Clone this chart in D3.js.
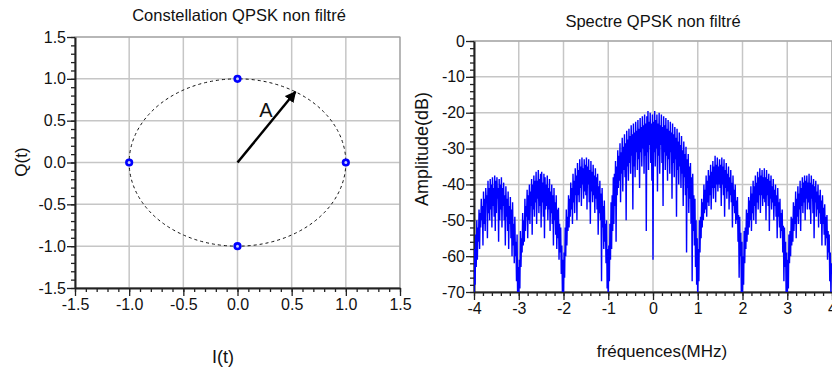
<!DOCTYPE html>
<html>
<head>
<meta charset="utf-8">
<script src="https://cdn.jsdelivr.net/npm/d3@7"></script>
<style>
  body { margin: 0; background: #fff; }
  text { font-family: "Liberation Sans", Arial, sans-serif; fill: #111; }
</style>
</head>
<body>
<div id="chart"></div>
<script>
// constellation points
var constI = [1, 0, -1, 0];
var constQ = [0, 1, 0, -1];
var arrowTip = [0.535, 0.845];   // A vector (I, Q)
var constTicks = [-1.5, -1.0, -0.5, 0.0, 0.5, 1.0, 1.5];

// spectre: one value every 0.0125 MHz from -4 to 4
var freqStart = -4, freqStep = 0.0125;
var spectreDb = [
  // -4 .. -3
  -73, -58, -68, -54, -63, -50, -61, -52, -56, -47,
  -58, -48, -52, -44, -50, -46, -57, -42, -51, -44,
  -53, -41, -45, -43, -55, -39, -48, -41, -50, -38.5,
  -47, -40, -52, -38, -46, -41, -49, -37.5, -53, -39,
  -48, -38, -44, -41, -56, -38.5, -50, -40, -47, -38,
  -52, -41, -46, -39.5, -50, -43, -57, -40.5, -49, -44,
  -53, -42, -58, -46, -51, -43.5, -55, -47, -60, -45,
  -57, -51, -62, -49, -60, -56, -67, -54, -72, -63,
  // -3 .. -2
  -75, -61, -69, -53, -63, -55, -59, -48, -57, -50,
  -56, -44, -53, -46, -49, -41.5, -55, -43, -50, -40,
  -51, -42, -46, -38.5, -54, -40, -47, -37.5, -49, -39,
  -45, -36.5, -51, -39, -44, -36, -48, -38.5, -46, -37,
  -52, -36.5, -45, -39.5, -49, -37, -55, -38, -47, -40,
  -46, -37.5, -50, -41, -47, -38.5, -53, -42, -48, -40,
  -51, -43, -57, -41, -50, -45, -54, -43, -58, -47,
  -55, -46.5, -61, -51, -59, -52, -65, -57, -70, -61,
  // -2 .. -1
  -74, -59, -66, -52, -60, -47, -57, -49, -53, -43,
  -52, -44, -49, -39.5, -47, -41, -51, -37, -45, -39,
  -48, -35.5, -43, -37.5, -50, -34, -43, -36, -45, -33,
  -41, -35, -46, -32.5, -40, -35.5, -44, -33, -42, -34.5,
  -43, -32.5, -47, -35, -40, -33, -45, -36, -51, -33.5,
  -42, -36.5, -45, -34.5, -43, -37.5, -48, -35.5, -44, -38,
  -47, -37, -54, -40.5, -48, -39, -50, -42.5, -67, -41,
  -52, -46, -58, -44.5, -56, -51, -62, -50, -69, -58,
  // -1 .. 0
  -75, -57, -67, -51, -61, -45, -58, -43, -53, -38,
  -51, -37, -46, -33.5, -56, -35, -43, -30.5, -41, -32,
  -39, -28.5, -45, -31, -37, -27, -42, -29.5, -36, -26,
  -38, -28.5, -50, -25, -35, -27.5, -39, -24.5, -34, -26.5,
  -37, -23.5, -32, -26, -47, -23, -35, -25.5, -38, -22.5,
  -31, -25, -36, -22, -33, -24.5, -41, -21.5, -31, -24,
  -35, -21, -30, -23.5, -37, -20.5, -32, -23, -53, -21,
  -31, -19.5, -36, -22.5, -29, -20, -34, -23, -39, -20.5,
  // 0 .. 1
  -61, -22.5, -31, -19.5, -35, -22, -30, -20.5, -42, -23,
  -32, -20, -37, -23.5, -29, -20.5, -34, -24, -46, -21,
  -31, -23.5, -36, -21.5, -32, -24.5, -39, -22, -33, -25,
  -37, -22.5, -31, -25.5, -44, -23, -34, -26, -38, -24,
  -33, -27, -49, -24.5, -36, -28, -40, -25.5, -35, -29,
  -41, -26.5, -37, -30.5, -46, -28, -38, -31.5, -43, -29.5,
  -59, -33, -41, -31.5, -48, -35, -44, -34, -51, -38,
  -67, -37, -53, -43, -57, -44, -63, -50, -68, -55,
  // 1 .. 2
  -74, -58, -67, -50, -59, -49, -55, -44, -52, -45,
  -50, -40, -48, -41.5, -47, -37.5, -49, -39, -45, -36,
  -46, -37.5, -43, -34.5, -47, -36.5, -41, -33.5, -44, -35,
  -41, -32, -45, -34.5, -40, -32.5, -42, -35, -40, -33,
  -41, -34.5, -46, -32.5, -40, -35, -43, -33, -49, -36,
  -41, -34, -44, -37, -42, -35, -47, -38, -43, -36,
  -45, -39.5, -52, -37.5, -46, -41.5, -48, -40, -51, -44.5,
  -50, -43.5, -56, -48.5, -66, -49, -60, -53.5, -72, -56,
  // 2 .. 3
  -73, -60, -68, -53, -62, -52, -58, -47, -56, -48,
  -54, -43.5, -52, -44.5, -50, -40.5, -53, -42.5, -48, -39,
  -50, -40.5, -46, -37.5, -51, -39.5, -45, -36.5, -47, -38,
  -43, -35.5, -48, -37.5, -43, -36, -46, -38, -44, -35.5,
  -45, -38, -50, -36, -43, -38.5, -46, -37, -53, -39,
  -44, -37.5, -47, -40.5, -45, -38.5, -50, -41.5, -46, -40,
  -49, -43, -55, -41, -49, -45, -52, -44, -55, -48,
  -53, -47, -59, -51.5, -67, -52, -63, -56, -71, -59,
  // 3 .. 4
  -74, -61, -69, -54, -62, -53, -60, -49, -57, -49.5,
  -56, -45, -53, -46, -51, -42, -55, -44, -49, -40.5,
  -51, -42.5, -47, -39, -53, -41, -46, -38, -48, -39.5,
  -45, -37.5, -50, -39, -44, -37.5, -47, -39.5, -45, -37,
  -47, -39.5, -51, -37.5, -44, -40, -48, -38.5, -55, -40.5,
  -45, -39, -49, -42, -47, -40, -52, -43, -48, -41.5,
  -51, -44.5, -57, -43, -51, -46.5, -54, -45.5, -57, -49,
  -55, -48.5, -61, -53, -59, -54, -67, -59, -70, -62,
  -65
];
var freqTicks = [-4, -3, -2, -1, 0, 1, 2, 3, 4];
var dbTicks = [0, -10, -20, -30, -40, -50, -60, -70];

var svg = d3.select("#chart")
  .append("svg")
    .attr("width", 832)
    .attr("height", 371);

// arrow head
svg.append("defs").append("marker")
    .attr("id", "head")
    .attr("viewBox", "0 0 10 10")
    .attr("refX", 9).attr("refY", 5)
    .attr("markerWidth", 4.5).attr("markerHeight", 4.5)
    .attr("orient", "auto")
  .append("path")
    .attr("d", "M0,0 L10,5 L0,10 z")
    .attr("fill", "#000");

function drawFrame(g, x, y, w, h, xMajor, yMajor, xMinor, yMinor, fmtX, fmtY) {
  // grid
  g.selectAll(".gx").data(xMajor).enter().append("line")
    .attr("x1", d => x(d)).attr("x2", d => x(d))
    .attr("y1", 0).attr("y2", h)
    .attr("stroke", "#c6c6c6").attr("stroke-width", 1.5);
  g.selectAll(".gy").data(yMajor).enter().append("line")
    .attr("x1", 0).attr("x2", w)
    .attr("y1", d => y(d)).attr("y2", d => y(d))
    .attr("stroke", "#c6c6c6").attr("stroke-width", 1.5);
  g.append("rect")
    .attr("width", w).attr("height", h)
    .attr("fill", "none").attr("stroke", "#999").attr("stroke-width", 1);

  // minor ticks
  g.append("g")
    .attr("transform", "translate(0," + h + ")")
    .call(d3.axisBottom(x).tickValues(xMinor).tickSize(4).tickFormat(""))
    .call(a => a.select(".domain").remove());
  g.append("g")
    .call(d3.axisLeft(y).tickValues(yMinor).tickSize(4).tickFormat(""))
    .call(a => a.select(".domain").remove());

  // major ticks + labels
  var ax = g.append("g")
    .attr("transform", "translate(0," + h + ")")
    .call(d3.axisBottom(x).tickValues(xMajor).tickSize(8).tickSizeOuter(0).tickPadding(3).tickFormat(fmtX));
  var ay = g.append("g")
    .call(d3.axisLeft(y).tickValues(yMajor).tickSize(8).tickSizeOuter(0).tickPadding(1).tickFormat(fmtY));
  [ax, ay].forEach(a => {
    a.selectAll("text").style("font-size", "16px").attr("fill", "#111");
    a.select(".domain").attr("stroke", "#222").attr("stroke-width", 2);
  });
  g.selectAll("g.tick line").attr("stroke", "#222").attr("stroke-width", 1.3);
}

// ---------- left: constellation ----------
var L = {left: 75, top: 37, w: 325, h: 251};
var gl = svg.append("g").attr("transform", "translate(" + L.left + "," + L.top + ")");
var xc = d3.scaleLinear().domain([-1.5, 1.5]).range([0, L.w]);
var yc = d3.scaleLinear().domain([-1.5, 1.5]).range([L.h, 0]);
var minorC = d3.range(-15, 16).map(d => d / 10);
drawFrame(gl, xc, yc, L.w, L.h, constTicks, constTicks, minorC, minorC,
  d => d.toFixed(1), d => d.toFixed(1));

// unit circle (dashed)
gl.append("ellipse")
  .attr("cx", xc(0)).attr("cy", yc(0))
  .attr("rx", xc(1) - xc(0)).attr("ry", yc(0) - yc(1))
  .attr("fill", "none").attr("stroke", "#111")
  .attr("stroke-width", 1).attr("stroke-dasharray", "3,3");

// vector A
gl.append("line")
  .attr("x1", xc(0)).attr("y1", yc(0))
  .attr("x2", xc(arrowTip[0])).attr("y2", yc(arrowTip[1]))
  .attr("stroke", "#000").attr("stroke-width", 2.5)
  .attr("marker-end", "url(#head)");
svg.append("text")
  .attr("x", 266).attr("y", 117)
  .attr("text-anchor", "middle")
  .style("font-size", "20px")
  .text("A");

// symbols
gl.selectAll(".pt").data(constI).enter().append("circle")
  .attr("cx", d => xc(d))
  .attr("cy", (d, i) => yc(constQ[i]))
  .attr("r", 2.8)
  .attr("fill", "#c8cfff").attr("stroke", "#0000ff").attr("stroke-width", 2.6);

svg.append("text")
  .attr("x", 239).attr("y", 21)
  .attr("text-anchor", "middle").style("font-size", "16.5px")
  .text("Constellation QPSK non filtré");
svg.append("text")
  .attr("transform", "translate(27,162) rotate(-90)")
  .attr("text-anchor", "middle").style("font-size", "17px")
  .text("Q(t)");
svg.append("text")
  .attr("x", 223).attr("y", 363)
  .attr("text-anchor", "middle").style("font-size", "18px")
  .text("I(t)");

// ---------- right: spectre ----------
var R = {left: 474, top: 41, w: 358, h: 251};
var gr = svg.append("g").attr("transform", "translate(" + R.left + "," + R.top + ")");
var xs = d3.scaleLinear().domain([-4, 4]).range([0, R.w]);
var ys = d3.scaleLinear().domain([-70, 0]).range([R.h, 0]);
drawFrame(gr, xs, ys, R.w, R.h, freqTicks, dbTicks,
  d3.range(-20, 21).map(d => d / 5), d3.range(-35, 1).map(d => d * 2),
  d => String(d), d => String(d));

gr.append("clipPath").attr("id", "clipS")
  .append("rect").attr("width", R.w).attr("height", R.h);

var line = d3.line()
  .x((d, i) => xs(freqStart + i * freqStep))
  .y(d => ys(d));
gr.append("path")
  .datum(spectreDb)
  .attr("clip-path", "url(#clipS)")
  .attr("d", line)
  .attr("fill", "none")
  .attr("stroke", "#0000ff")
  .attr("stroke-width", 1.4);

svg.append("text")
  .attr("x", 653).attr("y", 27)
  .attr("text-anchor", "middle").style("font-size", "16.5px")
  .text("Spectre QPSK non filtré");
svg.append("text")
  .attr("transform", "translate(428,149) rotate(-90)")
  .attr("text-anchor", "middle").style("font-size", "18px")
  .text("Amplitude(dB)");
svg.append("text")
  .attr("x", 662).attr("y", 357)
  .attr("text-anchor", "middle").style("font-size", "17px")
  .text("fréquences(MHz)");
</script>
</body>
</html>
